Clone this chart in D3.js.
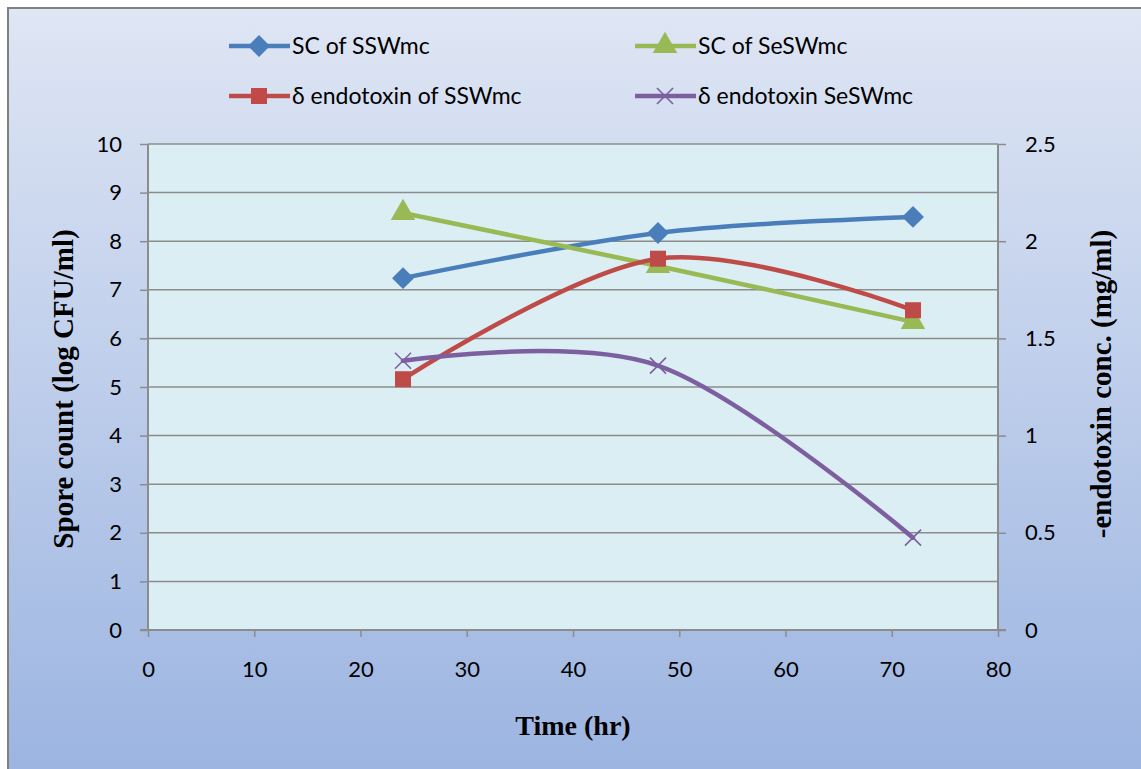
<!DOCTYPE html>
<html>
<head>
<meta charset="utf-8">
<script src="https://cdn.jsdelivr.net/npm/d3@7"></script>
<style>
  html, body { margin: 0; padding: 0; background: #ffffff; }
  svg { display: block; }
</style>
</head>
<body>
<svg id="chart" width="1141" height="769"></svg>
<script>
// Sampling times (hr)
const times = [24, 48, 72];

// Spore counts, log CFU/ml (left axis)
const scSSWmc  = [7.24, 8.17, 8.50];
const scSeSWmc = [8.58, 7.49, 6.34];

// δ-endotoxin concentration, mg/ml (right axis)
const endoSSWmc  = [1.29, 1.91, 1.645];
const endoSeSWmc = [1.385, 1.36, 0.475];

const xTicks = [0, 10, 20, 30, 40, 50, 60, 70, 80];
const yLeftTicks = [0, 1, 2, 3, 4, 5, 6, 7, 8, 9, 10];
const yRightTicks = [0, 0.5, 1, 1.5, 2, 2.5];

const seriesNames = ["SC of SSWmc", "SC of SeSWmc", "δ endotoxin of SSWmc", "δ endotoxin SeSWmc"];

const svg = d3.select("#chart");
const W = 1141, H = 769;

// background panel with vertical gradient
const defs = svg.append("defs");
const grad = defs.append("linearGradient").attr("id", "bg").attr("x1", 0).attr("y1", 0).attr("x2", 0).attr("y2", 1);
grad.append("stop").attr("offset", "0%").attr("stop-color", "#dfe6f4");
grad.append("stop").attr("offset", "100%").attr("stop-color", "#9bb4e1");

svg.append("rect").attr("x", 8).attr("y", 8).attr("width", W).attr("height", H)
  .attr("fill", "url(#bg)").attr("stroke", "#808080").attr("stroke-width", 2);

const plot = { left: 148, right: 998, top: 144, bottom: 630 };

const x = d3.scaleLinear().domain([0, 80]).range([plot.left, plot.right]);
const yL = d3.scaleLinear().domain([0, 10]).range([plot.bottom, plot.top]);
const yR = d3.scaleLinear().domain([0, 2.5]).range([plot.bottom, plot.top]);

// plot area
svg.append("rect")
  .attr("x", plot.left).attr("y", plot.top)
  .attr("width", plot.right - plot.left).attr("height", plot.bottom - plot.top)
  .attr("fill", "#dbeef4");

// horizontal gridlines
svg.append("g").selectAll("line").data(yLeftTicks).join("line")
  .attr("x1", plot.left).attr("x2", plot.right)
  .attr("y1", d => yL(d)).attr("y2", d => yL(d))
  .attr("stroke", "#8c8c8c").attr("stroke-width", 1.5);

const tickFont = "'Lato', 'Open Sans', sans-serif";

// left axis
const gL = svg.append("g").attr("transform", `translate(${plot.left},0)`)
  .call(d3.axisLeft(yL).tickValues(yLeftTicks).tickSize(8).tickPadding(18).tickFormat(d3.format("d")));
// right axis
const gR = svg.append("g").attr("transform", `translate(${plot.right},0)`)
  .call(d3.axisRight(yR).tickValues(yRightTicks).tickSize(8).tickPadding(19).tickFormat(d => d3.format("")(d)));
// bottom axis
const gB = svg.append("g").attr("transform", `translate(0,${plot.bottom})`)
  .call(d3.axisBottom(x).tickValues(xTicks).tickSize(7).tickPadding(24).tickFormat(d3.format("d")));

[gL, gR, gB].forEach(g => {
  g.select(".domain").attr("stroke", "#8c8c8c").attr("stroke-width", 2);
  g.selectAll(".tick line").attr("stroke", "#8c8c8c").attr("stroke-width", 1.5);
  g.selectAll(".tick text").attr("fill", "#000").style("font-family", tickFont).style("font-size", "22px");
});
gL.select(".domain").attr("d", `M0,${plot.bottom}V${plot.top}`);
gR.select(".domain").attr("d", `M0,${plot.bottom}V${plot.top}`);
gB.select(".domain").attr("d", `M${plot.left - 8},0H${plot.right + 8}`);

// axis titles
const titleFont = "'Liberation Serif', 'Times New Roman', serif";
svg.append("text").attr("x", 573).attr("y", 735).attr("text-anchor", "middle")
  .style("font-family", titleFont).style("font-weight", "bold").style("font-size", "28px")
  .text("Time (hr)");
svg.append("text").attr("transform", "translate(73,389) rotate(-90)").attr("text-anchor", "middle")
  .style("font-family", titleFont).style("font-weight", "bold").style("font-size", "29px")
  .text("Spore count (log CFU/ml)");
svg.append("text").attr("transform", "translate(1111,384) rotate(-90)").attr("text-anchor", "middle")
  .style("font-family", titleFont).style("font-weight", "bold").style("font-size", "29px")
  .text("-endotoxin conc. (mg/ml)");

// series
const colors = ["#4a7ebb", "#98b954", "#be4b48", "#7d5fa0"];
const series = [
  { name: seriesNames[0], vals: scSSWmc,  y: yL, color: colors[0], marker: "diamond" },
  { name: seriesNames[1], vals: scSeSWmc, y: yL, color: colors[1], marker: "triangle" },
  { name: seriesNames[2], vals: endoSSWmc,  y: yR, color: colors[2], marker: "square" },
  { name: seriesNames[3], vals: endoSeSWmc, y: yR, color: colors[3], marker: "cross" }
];

const symbolFor = {
  diamond: d3.symbol().type(d3.symbolSquare).size(240),
  triangle: d3.symbol().type(d3.symbolTriangle).size(260),
  square: d3.symbol().type(d3.symbolSquare).size(256),
  cross: d3.symbol().type(d3.symbolX).size(170)
};

function drawMarker(g, s, cx, cy) {
  const rot = s.marker === "diamond" ? " rotate(45)" : "";
  const p = g.append("path").attr("d", symbolFor[s.marker]()).attr("transform", `translate(${cx},${cy})${rot}`);
  if (s.marker === "cross") {
    p.attr("fill", "none").attr("stroke", s.color).attr("stroke-width", 1.6);
  } else {
    p.attr("fill", s.color).attr("stroke", "none");
  }
}

const lineGen = (yScale) => d3.line()
  .x((d, i) => x(times[i]))
  .y(d => yScale(d))
  .curve(d3.curveCardinal.tension(0));

const seriesLayer = svg.append("g");
series.forEach(s => {
  seriesLayer.append("path").datum(s.vals)
    .attr("d", lineGen(s.y))
    .attr("fill", "none").attr("stroke", s.color).attr("stroke-width", 4.5)
    .attr("stroke-linejoin", "round").attr("stroke-linecap", "round");
});
series.forEach(s => {
  const g = seriesLayer.append("g");
  s.vals.forEach((v, i) => drawMarker(g, s, x(times[i]), s.y(v)));
});

// legend
const legendFont = "'Lato', 'Open Sans', sans-serif";
const legendPos = [[229, 46], [635, 46], [229, 96], [635, 96]];
series.forEach((s, i) => {
  const [lx, ly] = legendPos[i];
  const g = svg.append("g");
  g.append("line").attr("x1", lx).attr("x2", lx + 61).attr("y1", ly).attr("y2", ly)
    .attr("stroke", s.color).attr("stroke-width", 4.5);
  drawMarker(g, s, lx + 30, ly);
  g.append("text").attr("x", lx + 63).attr("y", ly + 8)
    .style("font-family", legendFont).style("font-size", "23px").attr("fill", "#000")
    .text(s.name);
});
</script>
</body>
</html>
